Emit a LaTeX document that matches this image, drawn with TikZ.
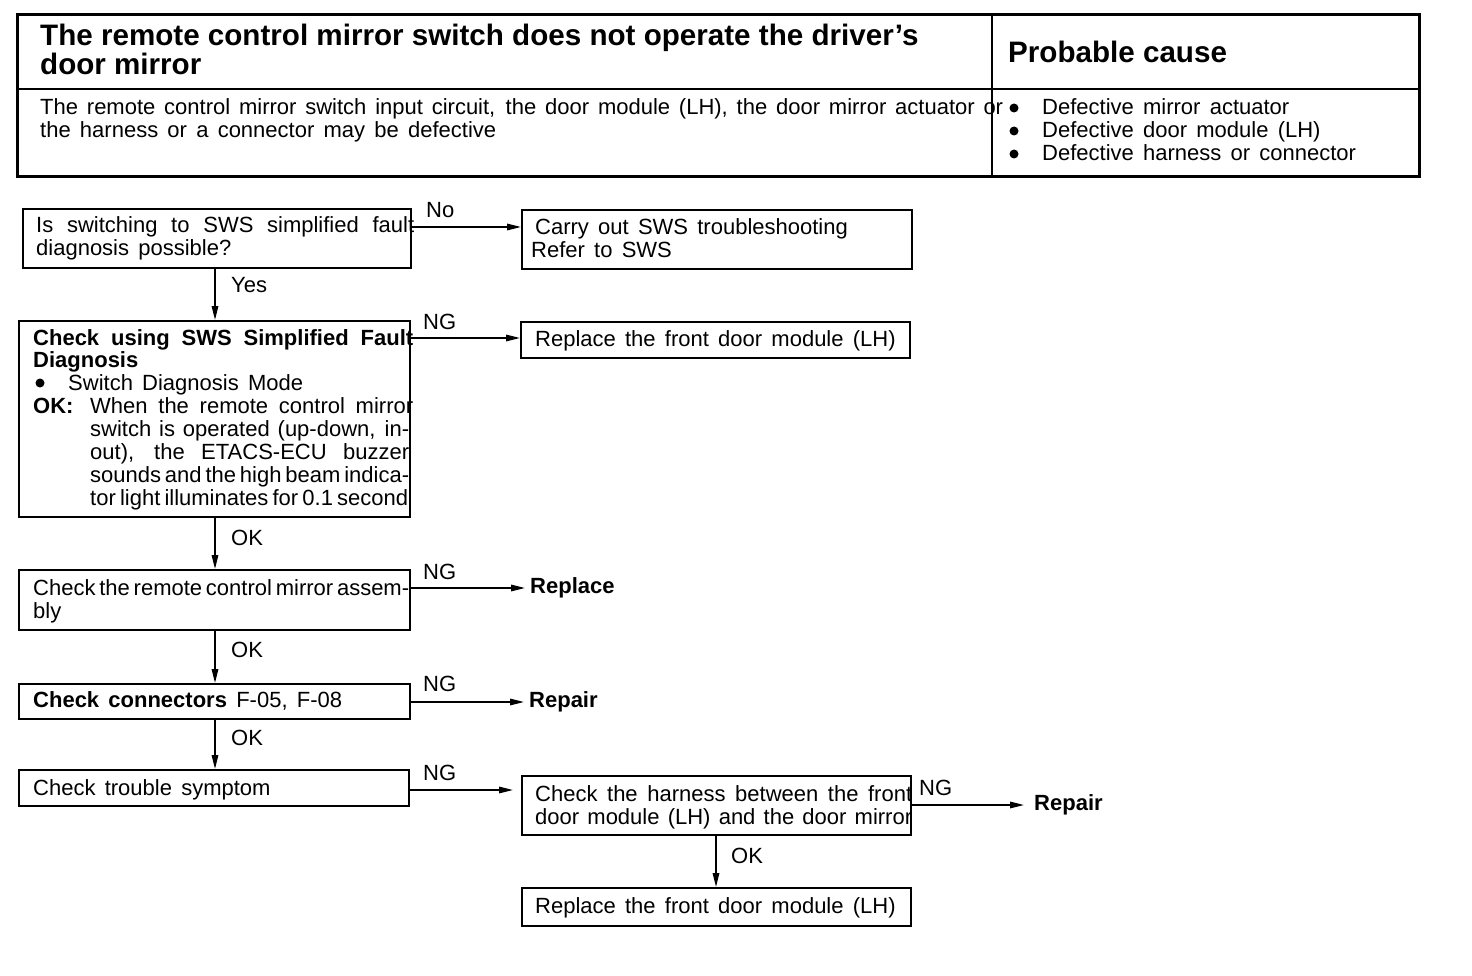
\documentclass[tikz,border=0pt]{standalone}
\usepackage{fontspec}
\setmainfont{Liberation Sans}
\usetikzlibrary{arrows.meta}
\newcommand\bodyf{\fontsize{22}{23}\selectfont\spaceskip=0.42em plus 1em}
\newcommand\headf{\fontsize{29.6}{29}\selectfont\bfseries}
\newcommand\jl[2]{{\spaceskip=0.12em plus 3em minus 0.05em\makebox[#1pt][s]{#2}}}
\begin{document}
\begin{tikzpicture}[x=1pt,y=-1pt,
  box/.style={draw, line width=2.2pt, inner sep=0pt, anchor=north west},
  thin/.style={line width=1.2pt},
  arr/.style={line width=1.6pt, -{Triangle[length=14pt,width=6.5pt]}},
  txt/.style={inner sep=0pt, anchor=base west, font=\bodyf},
  btxt/.style={inner sep=0pt, anchor=base west, font=\bodyf\bfseries},
  lbl/.style={inner sep=0pt, anchor=base west, font=\bodyf},
  htxt/.style={inner sep=0pt, anchor=base west, font=\headf},
  dot/.style={circle, fill, inner sep=0pt, minimum size=9pt}]
\useasboundingbox[fill=white] (0,0) rectangle (1472,976);

% ---------- header table ----------
\node[box, line width=2.6pt, minimum width=1402pt, minimum height=162pt] (tab) at (16,13) {};
\draw[thin] (tab.north -| 992,0) coordinate (dvt) -- (tab.south -| 992,0) coordinate (dvb);
\draw[thin] (tab.west |- 0,89) -- (tab.east |- 0,89);
\node[htxt] (h1) at (40,46) {The remote control mirror switch does not operate the driver's};
\node[htxt] (h2) at (40,75) {door mirror};
\node[htxt] (h3) at (1008,63) {Probable cause};
\node[txt] (d1) at (40,115) {\jl{963}{The remote control mirror switch input circuit, the door module (LH), the door mirror actuator or}};
\node[txt] (d2) at (40,138) {the harness or a connector may be defective};
\node[dot] (p1d) at (1014,108) {};
\node[dot] (p2d) at (1014,131) {};
\node[dot] (p3d) at (1014,154) {};
\node[txt] (p1) at (1042,115) {Defective mirror actuator};
\node[txt] (p2) at (1042,138) {Defective door module (LH)};
\node[txt] (p3) at (1042,161) {Defective harness or connector};

% ---------- flow boxes ----------
\node[box, minimum width=388pt, minimum height=59pt] (b1) at (22,208) {};
\node[txt] (b1a) at (36,233) {\jl{378}{Is switching to SWS simplified fault}};
\node[txt] (b1b) at (36,256) {diagnosis possible?};

\node[box, minimum width=390pt, minimum height=59pt] (r1) at (521,209) {};
\node[txt] (r1a) at (535,235) {Carry out SWS troubleshooting};
\node[txt] (r1b) at (531,258) {Refer to SWS};

\node[box, minimum width=391pt, minimum height=196pt] (b2) at (18,320) {};
\node[btxt] (b2a) at (33,345) {\jl{380}{Check using SWS Simplified Fault}};
\node[btxt] (b2b) at (33,367) {Diagnosis};
\node[dot] (b2d) at (40,383) {};
\node[txt] (b2c) at (68,390) {Switch Diagnosis Mode};
\node[btxt] (b2ok) at (33,413) {OK:};
\node[txt] (b2e) at (90,413) {\jl{323}{When the remote control mirror}};
\node[txt] (b2f) at (90,436) {\jl{319}{switch is operated (up-down, in-}};
\node[txt] (b2g) at (90,459) {\jl{319}{out), the ETACS-ECU buzzer}};
\node[txt] (b2h) at (90,482) {\jl{319}{sounds and the high beam indica-}};
\node[txt] (b2i) at (90,505) {\jl{318}{tor light illuminates for 0.1 second}};

\node[box, minimum width=389pt, minimum height=36pt] (r2) at (520,321) {};
\node[txt] (r2a) at (535,346) {Replace the front door module (LH)};

\node[box, minimum width=391pt, minimum height=60pt] (b3) at (18,569) {};
\node[txt] (b3a) at (33,595) {\jl{376}{Check the remote control mirror assem-}};
\node[txt] (b3b) at (33,618) {bly};
\node[btxt, anchor=west] (rep1) at (530,588) {Replace};

\node[box, minimum width=391pt, minimum height=35pt] (b4) at (18,683) {};
\node[txt] (b4a) at (33,707) {\textbf{Check connectors} F-05, F-08};
\node[btxt, anchor=west] (rep2) at (529,702) {Repair};

\node[box, minimum width=390pt, minimum height=36pt] (b5) at (18,769) {};
\node[txt] (b5a) at (33,795) {Check trouble symptom};

\node[box, minimum width=389pt, minimum height=59pt] (r5) at (521,775) {};
\node[txt] (r5a) at (535,801) {\jl{377}{Check the harness between the front}};
\node[txt] (r5b) at (535,824) {\jl{377}{door module (LH) and the door mirror}};
\node[btxt, anchor=west] (rep3) at (1034,805) {Repair};

\node[box, minimum width=389pt, minimum height=38pt] (r6) at (521,887) {};
\node[txt] (r6a) at (535,913) {Replace the front door module (LH)};

% ---------- connectors ----------
\draw[arr] (b1.east |- 0,227) -- (r1.west |- 0,227);
\node[lbl] (lno) at (426,218) {No};
\draw[arr] (b1.south -| 215,0) -- (b2.north -| 215,0);
\node[lbl] (lyes) at (231,292) {Yes};

\draw[arr] (b2.east |- 0,338) -- (r2.west |- 0,338);
\node[lbl] (lng1) at (423,329) {NG};
\draw[arr] (b2.south -| 215,0) -- (b3.north -| 215,0);
\node[lbl] (lok1) at (231,545) {OK};

\draw[arr] (b3.east |- rep1.west) -- ([xshift=-5pt]rep1.west);
\node[lbl] (lng2) at (423,579) {NG};
\draw[arr] (b3.south -| 215,0) -- (b4.north -| 215,0);
\node[lbl] (lok2) at (231,657) {OK};

\draw[arr] (b4.east |- rep2.west) -- ([xshift=-5pt]rep2.west);
\node[lbl] (lng3) at (423,691) {NG};
\draw[arr] (b4.south -| 215,0) -- (b5.north -| 215,0);
\node[lbl] (lok3) at (231,745) {OK};

\draw[arr] (b5.east |- 0,790) -- ([xshift=-8pt]r5.west |- 0,790);
\node[lbl] (lng4) at (423,780) {NG};
\draw[arr] (r5.east |- rep3.west) -- ([xshift=-10pt]rep3.west);
\node[lbl] (lng5) at (919,795) {NG};
\draw[arr] (r5.south -| 716,0) -- (r6.north -| 716,0);
\node[lbl] (lok4) at (731,863) {OK};
\end{tikzpicture}
\end{document}
